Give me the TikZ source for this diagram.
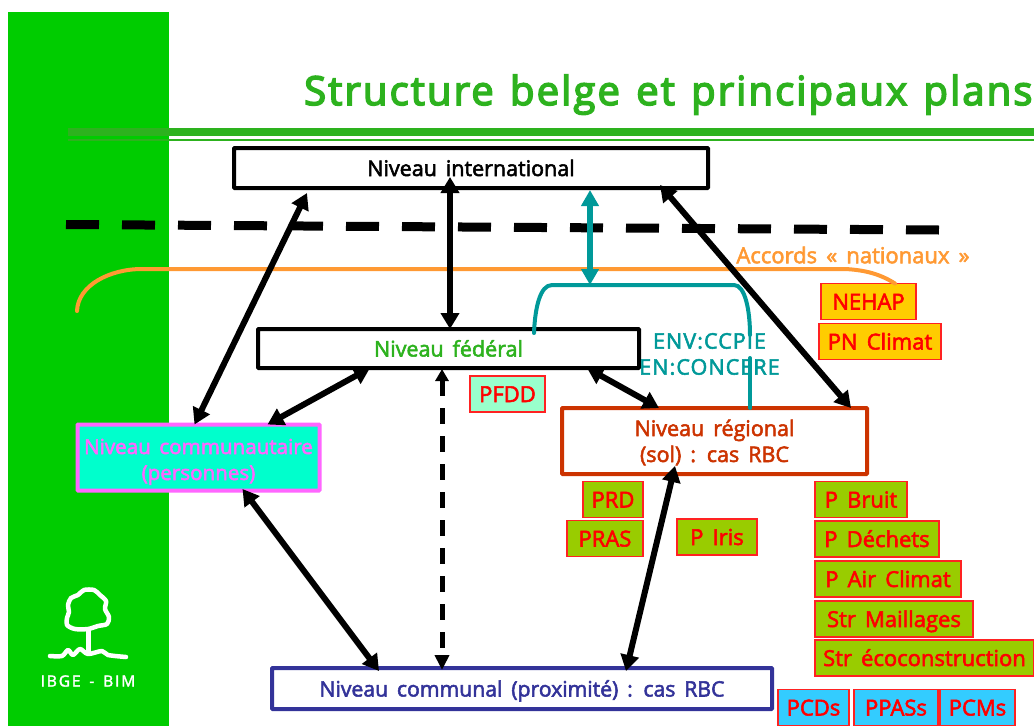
\documentclass[tikz,border=0pt]{standalone}
\usepackage{fontspec}
\usepackage{xcolor}
\usetikzlibrary{arrows.meta}
\setmainfont{Open Sans}[WordSpace=1.5,FakeBold=2]
\newfontfamily\titlefont{Open Sans}[LetterSpace=5.3,WordSpace=1.3,FakeBold=4]
\newfontfamily\boxfont{Open Sans}[WordSpace=1.6,FakeBold=2.5]
\definecolor{panelgreen}{HTML}{00CC00}
\definecolor{rulegreen}{HTML}{2DB21E}
\definecolor{accordorange}{HTML}{FF9933}
\definecolor{bracketteal}{HTML}{009999}
\definecolor{planred}{HTML}{FF0000}
\definecolor{planedge}{HTML}{FF2222}
\definecolor{planolive}{HTML}{99CC00}
\definecolor{planyellow}{HTML}{FFCC00}
\definecolor{plansky}{HTML}{33CCFF}
\definecolor{planmint}{HTML}{99FFCC}
\definecolor{regionred}{HTML}{CC3300}
\definecolor{communeblue}{HTML}{333399}
\definecolor{personpink}{HTML}{FF66FF}
\definecolor{personcyan}{HTML}{00FFCC}
\tikzset{
	level/.style={draw,line width=4pt,rounded corners=0.8pt,align=center,inner sep=0pt,outer sep=0pt,text height=16pt,text depth=0pt,font=\boxfont\fontsize{21.5}{26}\selectfont},
	plan/.style={draw=planedge,line width=1.2pt,anchor=west,inner sep=0pt,outer sep=0pt,minimum height=36pt,text=planred,text height=16pt,text depth=0pt,font=\boxfont\fontsize{22}{26}\selectfont},
	link/.style={line width=6pt,{Triangle[length=16pt,width=18pt]}-{Triangle[length=16pt,width=18pt]}},
}
\begin{document}
\begin{tikzpicture}[x=1pt,y=-1pt]
	\useasboundingbox (0,0) rectangle (1034,726);
	\fill[panelgreen] (8,12) rectangle (169,726);
	\node[text=rulegreen,anchor=base west,inner sep=0pt,font=\titlefont\fontsize{40}{48}\selectfont] (title) at (304,105) {Structure belge et principaux plans};
	\coordinate (rulestart) at (68,132);
	\coordinate (ruleend) at (1034,132);
	\draw[rulegreen,line width=8pt] (rulestart) -- (ruleend);
	\draw[rulegreen,line width=2.5pt] ([yshift=-8pt]rulestart) -- ([yshift=-8pt]ruleend);

	% boundary of the national level
	\coordinate (limitstart) at (66,224.5);
	\coordinate (limitend) at (939,230);
	\draw[line width=9pt,dash pattern=on 33pt off 23pt] (limitstart) -- (limitend);

	\node[level,minimum width=474pt,minimum height=40pt] (intl) at (471,168) {Niveau international};
	\node[level,minimum width=381pt,minimum height=39pt,text=rulegreen] (fed) at (448.5,348.5) {Niveau fédéral};
	\node[level,draw=regionred,text=regionred,minimum width=305pt,minimum height=66pt,text height=42pt] (reg) at (714.5,441) {Niveau régional\\(sol) : cas RBC};
	\node[level,draw=personpink,fill=personcyan,text=personpink,minimum width=242pt,minimum height=66pt,text height=45pt,font=\boxfont\fontsize{20.6}{26}\selectfont] (comm) at (198.5,457.5) {Niveau communautaire\\(personnes)};
	\node[level,draw=communeblue,text=communeblue,minimum width=500pt,minimum height=41pt,font=\boxfont\fontsize{21.2}{26}\selectfont] (local) at (522,688.5) {Niveau communal (proximité) : cas RBC};

	% accords
	\node[text=accordorange,inner sep=0pt,font=\boxfont\fontsize{22}{24}\selectfont] (accords) at (853,255) {Accords « nationaux »};
	\node[plan,fill=planyellow,minimum width=95pt] (nehap) at (821,301.5) {NEHAP};
	\node[plan,fill=planyellow,minimum width=122pt] (climat) at (819,341.5) {PN Climat};
	\coordinate (accordstart) at (77,311);
	\draw[accordorange,line width=4pt,line cap=round] (accordstart) .. controls (78,285) and (110,269) .. (142,269) -- (845,269) .. controls (865,270) and (880,274) .. ([xshift=74pt]nehap.north west);

	% plans
	\node[plan,fill=planmint,minimum width=75pt] (pfdd) at (470,394) {PFDD};
	\node[plan,fill=planolive,minimum width=60pt] (prd) at (583,499.5) {PRD};
	\node[plan,fill=planolive,minimum width=76pt] (pras) at (567,538.5) {PRAS};
	\node[plan,fill=planolive,minimum width=80pt] (iris) at (677,537) {P Iris};
	\node[plan,fill=planolive,minimum width=92pt] (bruit) at (815,499.5) {P Bruit};
	\node[plan,fill=planolive,minimum width=124pt] (dechets) at (815,539) {P Déchets};
	\node[plan,fill=planolive,minimum width=146pt] (air) at (815,579) {P Air Climat};
	\node[plan,fill=planolive,minimum width=158pt] (maillages) at (815,619) {Str Maillages};
	\node[plan,fill=planolive,minimum width=219pt] (eco) at (815,658) {Str écoconstruction};
	\node[plan,fill=plansky,minimum width=71pt] (pcd) at (778,707.5) {PCDs};
	\node[plan,fill=plansky,minimum width=84pt] (ppas) at (854,707.5) {PPASs};
	\node[plan,fill=plansky,minimum width=75pt] (pcm) at (940,707.5) {PCMs};

	% concertation
	\node[text=bracketteal,inner sep=0pt,align=center,font=\boxfont\fontsize{21.5}{26}\selectfont\addfontfeature{LetterSpace=5}] (concert) at (709.5,354) {ENV:CCPIE\\EN:CONCERE};
	\coordinate (bracetop) at (590,285);
	\draw[bracketteal,line width=4pt,line cap=round] ([xshift=276pt,yshift=-4pt]fed.north west) .. controls (535,308) and (540,285) .. (552,285) -- (734,285) .. controls (745,285) and (750,310) .. (750,335);
	\draw[bracketteal,line width=4pt,line cap=round] (750,358) -- ([xshift=188pt]reg.north west);
	\draw[bracketteal,line width=6pt,{Triangle[length=16pt,width=17pt]}-{Triangle[length=16pt,width=17pt]}] ([xshift=356pt,yshift=-2pt]intl.south west) -- (bracetop);

	% links between levels
	\draw[link] ([xshift=73pt,yshift=-5pt]intl.south west) -- ([xshift=117pt]comm.north west);
	\draw[link] ([xshift=216pt,yshift=11pt]intl.south west) -- ([xshift=192pt]fed.north west);
	\draw[link] ([xshift=426pt,yshift=3pt]intl.south west) -- ([xshift=289pt]reg.north west);
	\draw[link] ([xshift=112pt]fed.south west) -- ([xshift=190pt]comm.north west);
	\draw[link] ([xshift=329pt]fed.south west) -- ([xshift=97pt]reg.north west);
	\draw[link] ([xshift=165pt,yshift=1.5pt]comm.south west) -- ([xshift=107pt,yshift=-3pt]local.north west);
	\draw[link] ([xshift=113pt,yshift=8pt]reg.south west) -- ([xshift=354pt,yshift=-3pt]local.north west);
	\draw[line width=5pt,dash pattern=on 16pt off 12pt,{Triangle[length=12pt,width=13pt]}-{Triangle[length=15pt,width=14pt]}] ([xshift=184pt,yshift=-1pt]fed.south west) -- ([xshift=170pt,yshift=-2pt]local.north west);

	% logo
	\draw[white,line width=4.5pt,line join=round] plot[smooth cycle] coordinates {(69,612) (68,605) (71,598) (78,595) (84,590) (94,590) (100,595) (106,601) (105,609) (109,617) (107,624) (98,626) (88,629) (75,629) (67,625) (67,618)};
	\draw[white,line width=5pt] (88,630) -- (88,652);
	\draw[white,line width=4.5pt,line cap=round,line join=round] plot[smooth] coordinates {(50,656) (62,656) (68,650) (73,655) (80,649) (88,654) (102,651) (108,655) (126,657)};
	\node[text=white,inner sep=0pt,font=\fontsize{15.5}{18}\selectfont\addfontfeature{LetterSpace=12}] (ibge) at (88,681) {IBGE - BIM};
\end{tikzpicture}
\end{document}
